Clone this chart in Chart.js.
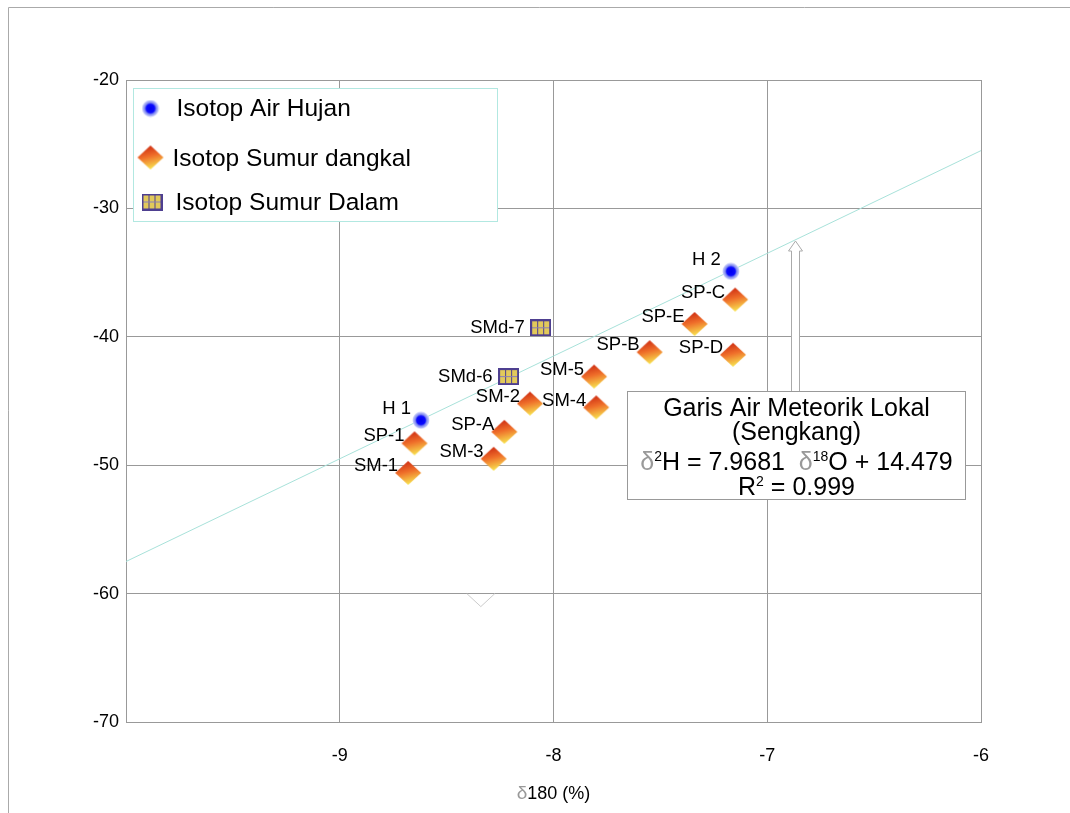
<!DOCTYPE html>
<html lang="id">
<head>
<meta charset="UTF-8">
<title>Isotop - Garis Air Meteorik Lokal</title>
<style>
  body { margin: 0; background: #fff; }
  canvas { display: block; }
</style>
</head>
<body>
<canvas id="chart" width="1070" height="813"></canvas>
<script src="https://cdn.jsdelivr.net/npm/chart.js"></script>
<script>
// data
const rainLabels = ['H 1', 'H 2'];
const rainX = [-8.62, -7.17];
const rainY = [-46.5, -34.9];

const shallowLabels = ['SP-1', 'SM-1', 'SP-A', 'SM-3', 'SM-2', 'SM-5', 'SM-4', 'SP-B', 'SP-E', 'SP-C', 'SP-D'];
const shallowX = [-8.65, -8.68, -8.23, -8.28, -8.11, -7.81, -7.80, -7.55, -7.34, -7.15, -7.16];
const shallowY = [-48.3, -50.6, -47.4, -49.5, -45.2, -43.1, -45.5, -41.2, -39.0, -37.1, -41.4];

const deepLabels = ['SMd-6', 'SMd-7'];
const deepX = [-8.21, -8.06];
const deepY = [-43.1, -39.3];

const lineX = [-10, -6];
const lineY = [-57.5, -25.5];

const xTicks = [-9, -8, -7, -6];
const legendNames = ['Isotop Air Hujan', 'Isotop Sumur dangkal', 'Isotop Sumur Dalam'];
const boxLines = ['Garis Air Meteorik Lokal', '(Sengkang)'];

const FONT = "'Liberation Sans', Arial, sans-serif";

function pts(xs, ys) { return xs.map((x, i) => ({ x: x, y: ys[i] })); }

// marker images
function makeCircle() {
  const c = document.createElement('canvas');
  c.width = 18; c.height = 18;
  const g = c.getContext('2d');
  const grad = g.createRadialGradient(9, 9, 0, 9, 9, 8.5);
  grad.addColorStop(0, '#0000f0');
  grad.addColorStop(0.5, '#0a0aff');
  grad.addColorStop(0.68, '#7f88f0');
  grad.addColorStop(1, '#d4d8fa');
  g.fillStyle = grad;
  g.beginPath(); g.arc(9, 9, 8.5, 0, Math.PI * 2); g.fill();
  return c;
}
function makeDiamond() {
  const c = document.createElement('canvas');
  c.width = 28; c.height = 26;
  const g = c.getContext('2d');
  const grad = g.createLinearGradient(10, 1, 16, 25);
  grad.addColorStop(0, '#cc2a12');
  grad.addColorStop(0.45, '#ef6e2a');
  grad.addColorStop(1, '#f8ea52');
  g.fillStyle = grad;
  g.beginPath();
  g.moveTo(14, 1); g.lineTo(27, 13); g.lineTo(14, 25); g.lineTo(1, 13); g.closePath();
  g.fill();
  return c;
}
function makeSquare() {
  const c = document.createElement('canvas');
  c.width = 21; c.height = 17;
  const g = c.getContext('2d');
  g.fillStyle = '#4e3f90';
  g.fillRect(0, 0, 21, 17);
  g.fillStyle = '#e2c95a';
  for (let r = 0; r < 2; r++) {
    for (let k = 0; k < 3; k++) {
      g.fillRect(2 + k * 6, 2 + r * 7, 5, 6);
    }
  }
  g.fillStyle = '#8a7fb8';
  g.fillRect(2, 8, 17, 1);
  return c;
}
const circleImg = makeCircle();
const diamondImg = makeDiamond();
const squareImg = makeSquare();

// frame, legend, point labels, equation box and stray arrows
const extras = {
  id: 'extras',
  beforeDraw(chart) {
    const ctx = chart.ctx;
    ctx.save();
    ctx.fillStyle = '#fff';
    ctx.fillRect(0, 0, chart.width, chart.height);
    ctx.strokeStyle = '#aaa';
    ctx.lineWidth = 1;
    ctx.beginPath();
    ctx.moveTo(8.5, chart.height);
    ctx.lineTo(8.5, 7.5);
    ctx.lineTo(chart.width, 7.5);
    ctx.stroke();
    ctx.restore();
  },
  afterDatasetsDraw(chart) {
    const ctx = chart.ctx;
    const xs = chart.scales.x, ys = chart.scales.y;
    const area = chart.chartArea;
    ctx.save();

    // point labels
    ctx.font = '18.5px ' + FONT;
    ctx.fillStyle = '#000';
    ctx.textAlign = 'right';
    ctx.textBaseline = 'middle';
    chart.data.datasets.forEach((ds, di) => {
      if (!ds.pointNames) return;
      const meta = chart.getDatasetMeta(di);
      meta.data.forEach((el, i) => {
        ctx.fillText(ds.pointNames[i], el.x + ds.labelDx, el.y + ds.labelDy);
      });
    });

    // stray marks from the original drawing
    ctx.strokeStyle = '#ccc';
    ctx.lineWidth = 1;
    const cx = xs.getPixelForValue(-8.34), cy = ys.getPixelForValue(-60);
    ctx.beginPath();
    ctx.moveTo(cx - 14, cy); ctx.lineTo(cx, cy + 13); ctx.lineTo(cx + 14, cy);
    ctx.stroke();
    const dx = xs.getPixelForValue(-7.63), dy = ys.getPixelForValue(-49.5);
    ctx.beginPath();
    ctx.moveTo(dx, dy); ctx.lineTo(dx + 13, dy - 11);
    ctx.stroke();

    // hollow up arrow
    const boxLeft = xs.getPixelForValue(-7.656);
    const boxTop = Math.round(ys.getPixelForValue(-44.22)) + 0.5;
    const ax = Math.round(xs.getPixelForValue(-6.87)) + 0.5;
    const aTop = ys.getPixelForValue(-32.54);
    ctx.strokeStyle = '#aaa';
    ctx.fillStyle = '#fff';
    ctx.beginPath();
    ctx.moveTo(ax - 4, boxTop); ctx.lineTo(ax - 4, aTop + 10);
    ctx.lineTo(ax - 7, aTop + 10); ctx.lineTo(ax, aTop);
    ctx.lineTo(ax + 7, aTop + 10); ctx.lineTo(ax + 4, aTop + 10);
    ctx.lineTo(ax + 4, boxTop);
    ctx.fill();
    ctx.stroke();

    // equation box
    const bw = 338, bh = 108;
    const bl = Math.round(boxLeft) + 0.5;
    ctx.fillStyle = '#fff';
    ctx.fillRect(bl, boxTop, bw, bh);
    ctx.strokeStyle = '#999';
    ctx.strokeRect(bl, boxTop, bw, bh);
    const mid = bl + bw / 2;
    ctx.fillStyle = '#000';
    ctx.textAlign = 'center';
    ctx.textBaseline = 'alphabetic';
    ctx.font = '25px ' + FONT;
    ctx.fillText(boxLines[0], mid, boxTop + 24);
    ctx.fillText(boxLines[1], mid, boxTop + 48);
    drawRuns(ctx, [
      ['\u03B4', 25, '#999', 0], ['2', 14, '#000', -9], ['H = 7.9681  ', 25, '#000', 0],
      ['\u03B4', 25, '#999', 0], ['18', 14, '#000', -9], ['O + 14.479', 25, '#000', 0]
    ], mid, boxTop + 78);
    drawRuns(ctx, [
      ['R', 25, '#000', 0], ['2', 14, '#000', -9], [' = 0.999', 25, '#000', 0]
    ], mid, boxTop + 103);

    // legend
    const lx = area.left + 7.5, ly = area.top + 8.5;
    ctx.strokeStyle = '#b2e8e1';
    ctx.fillStyle = '#fff';
    ctx.fillRect(lx, ly, 364, 133);
    ctx.strokeRect(lx, ly, 364, 133);
    ctx.drawImage(circleImg, lx + 17 - 9, ly + 20 - 9);
    ctx.drawImage(diamondImg, lx + 17 - 14, ly + 69 - 13);
    ctx.drawImage(squareImg, lx + 18 - 10, ly + 113 - 8);
    ctx.font = '24.5px ' + FONT;
    ctx.fillStyle = '#000';
    ctx.textAlign = 'left';
    ctx.fillText(legendNames[0], lx + 43, ly + 27);
    ctx.fillText(legendNames[1], lx + 39, ly + 77);
    ctx.fillText(legendNames[2], lx + 42, ly + 121);

    // x axis title
    drawRuns(ctx, [['\u03B4', 19, '#999', 0], ['180 (%)', 18, '#000', 0]],
      (area.left + area.right) / 2, chart.height - 14);

    ctx.restore();
  }
};

function drawRuns(ctx, runs, centerX, baseY) {
  let total = 0;
  runs.forEach(r => { ctx.font = r[1] + 'px ' + FONT; total += ctx.measureText(r[0]).width; });
  let x = centerX - total / 2;
  ctx.textAlign = 'left';
  ctx.textBaseline = 'alphabetic';
  runs.forEach(r => {
    ctx.font = r[1] + 'px ' + FONT;
    ctx.fillStyle = r[2];
    ctx.fillText(r[0], x, baseY + r[3]);
    x += ctx.measureText(r[0]).width;
  });
}

const chart = new Chart(document.getElementById('chart'), {
  type: 'scatter',
  data: {
    datasets: [
      {
        label: 'GMWL',
        data: pts(lineX, lineY),
        showLine: true,
        borderColor: '#a8e2da',
        borderWidth: 1,
        pointRadius: 0,
        order: 10
      },
      {
        label: legendNames[1],
        data: pts(shallowX, shallowY),
        pointStyle: diamondImg,
        pointRadius: 12,
        pointNames: shallowLabels,
        labelDx: -10, labelDy: -7,
        order: 2
      },
      {
        label: legendNames[2],
        data: pts(deepX, deepY),
        pointStyle: squareImg,
        pointRadius: 10,
        pointNames: deepLabels,
        labelDx: -16, labelDy: 0,
        order: 2
      },
      {
        label: legendNames[0],
        data: pts(rainX, rainY),
        pointStyle: circleImg,
        pointRadius: 8,
        pointNames: rainLabels,
        labelDx: -10, labelDy: -11,
        order: 1
      }
    ]
  },
  options: {
    responsive: false,
    animation: false,
    devicePixelRatio: 1,
    layout: { padding: { top: 80, right: 89, left: 0, bottom: 0 } },
    plugins: {
      legend: { display: false },
      tooltip: { enabled: false }
    },
    scales: {
      x: {
        type: 'linear',
        min: -10, max: -6,
        afterFit(scale) { scale.height = 91; },
        afterBuildTicks(scale) { scale.ticks = [-10].concat(xTicks).map(v => ({ value: v })); },
        grid: { color: '#999', drawTicks: false },
        border: { color: '#999' },
        ticks: {
          padding: 23,
          color: '#000',
          font: { family: FONT, size: 18 },
          callback: v => (xTicks.includes(v) ? String(v) : '')
        }
      },
      y: {
        type: 'linear',
        min: -70, max: -20,
        afterFit(scale) { scale.width = 126; },
        grid: { color: '#999', drawTicks: false },
        border: { color: '#999' },
        ticks: {
          stepSize: 10,
          padding: 7,
          color: '#000',
          font: { family: FONT, size: 18 }
        }
      }
    }
  },
  plugins: [extras]
});
</script>
</body>
</html>
